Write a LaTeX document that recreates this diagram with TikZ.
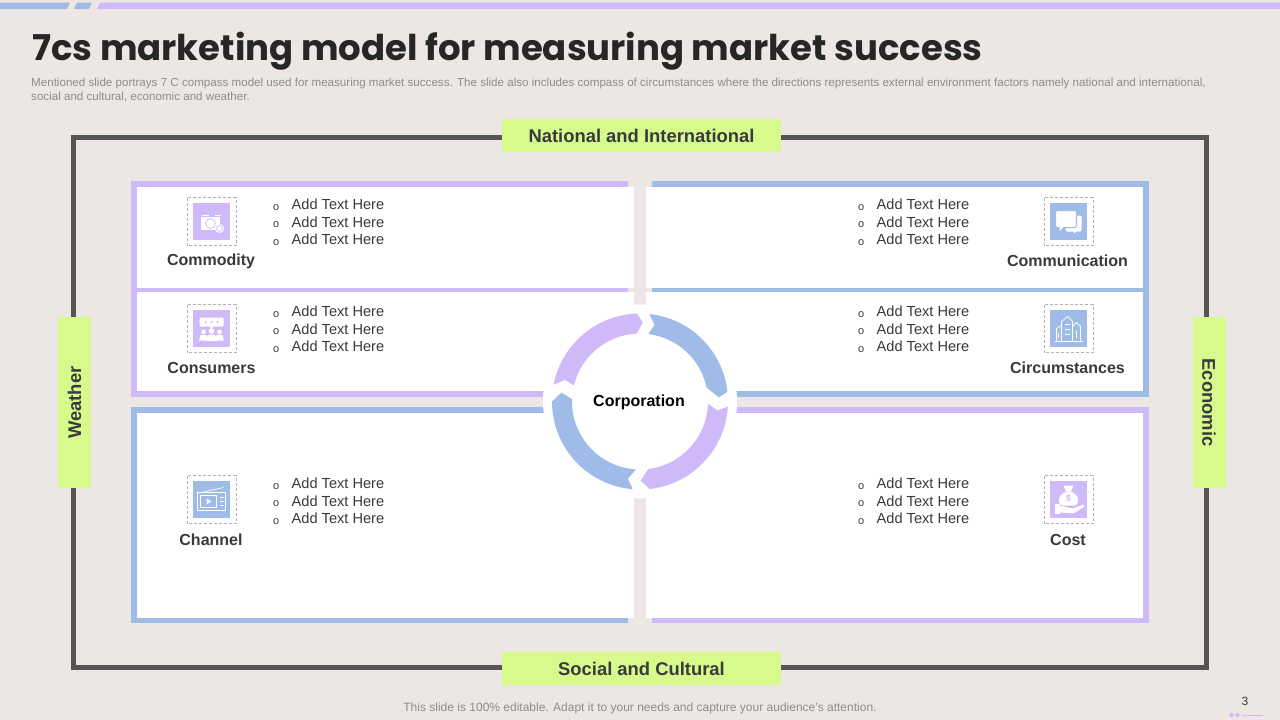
\documentclass[tikz,border=0pt]{standalone}
\usepackage{fontspec}
\usepackage{xcolor}
\setmainfont{Liberation Sans}
\newfontfamily\titlefont{Poppins}
\definecolor{pagegrey}{HTML}{ECE7E4}
\definecolor{framegrey}{HTML}{555555}
\definecolor{compasspurple}{HTML}{D0B9F8}
\definecolor{compassblue}{HTML}{9FBBE8}
\definecolor{sidegreen}{HTML}{D6FB8C}
\definecolor{inkgrey}{HTML}{3A3A3C}
\definecolor{notegrey}{HTML}{8E8C8C}
\newcommand{\addline}{\hbox to 18.5pt{\raisebox{-0.5pt}{\fontsize{11}{11}\selectfont o}\hfil}Add Text Here}
\tikzset{
  sidelabel/.style={fill=sidegreen,text=inkgrey,font=\fontsize{18.4}{20}\selectfont\bfseries,align=center,inner sep=0pt},
  namelabel/.style={text=inkgrey,font=\fontsize{16}{18}\selectfont\bfseries,inner sep=0pt},
  itemlist/.style={text=inkgrey,font=\fontsize{14.6}{17.5}\selectfont,align=left,inner sep=0pt,anchor=north west},
  dashbox/.style={draw=black!30,dashed,line width=0.6pt,dash pattern=on 3pt off 2pt},
  iconline/.style={draw=white,line width=0.9pt},
  iconfill/.style={fill=white,draw=none}
}
\begin{document}
\begin{tikzpicture}[x=1pt,y=-1pt,>=stealth]
  \useasboundingbox (0,0) rectangle (1280,720);
  \fill[pagegrey] (0,0) rectangle (1280,720);
  % top strip
  \fill[compassblue] (0,2.5)--(70,2.5)--(67,9)--(0,9)--cycle;
  \fill[compassblue] (77,2.5)--(92,2.5)--(89,9)--(74,9)--cycle;
  \fill[compasspurple] (100,2.5)--(1280,2.5)--(1280,9)--(97,9)--cycle;
  % outer frame
  \draw[framegrey,line width=4.5pt] (73.5,137.5) rectangle (1206.5,667.5);
  % panels
  \fill[compasspurple] (131,181) rectangle (628,397);
  \fill[compassblue] (652,181) rectangle (1149,397);
  \fill[compassblue] (131,407) rectangle (628,623);
  \fill[compasspurple] (652,407) rectangle (1149,623);
  \fill[white] (137,187) rectangle (634,288);
  \fill[white] (137,292) rectangle (634,391);
  \fill[white] (646,187) rectangle (1143,288);
  \fill[white] (646,292) rectangle (1143,391);
  \fill[white] (137,413) rectangle (634,618);
  \fill[white] (646,413) rectangle (1143,618);
  % centre compass
  \fill[white] (640,401.5) circle (97);
  \begin{scope}[shift={(640,401.5)},y=1pt]
    \foreach \col/\ao/\an/\ai/\hi/\tip/\ho in {
      compasspurple/169/163.9/166.4/92.8/88/92,
      compassblue/83.9/79.2/83/11.8/3/6.4,
      compasspurple/-3.4/-6.6/-2/-83/-89.5/-83.9,
      compassblue/-94.8/-98.9/-93.3/-182/-186.5/-179.9}
      \fill[\col] (\ao:88) arc[start angle=\ao,end angle=\ho,radius=88] -- (\tip:79)
        -- (\hi:68) arc[start angle=\hi,end angle=\ai,radius=68] -- (\an:78) -- cycle;
  \end{scope}
  \node[font=\fontsize{16}{18}\selectfont\bfseries,inner sep=0pt] (corporation) at (639,402) {Corporation};
  % heading
  \node[anchor=base west,inner sep=0pt,text=black!85,font=\titlefont\fontsize{35.5}{38}\selectfont\bfseries] (title) at (32,60) {7cs marketing model for measuring market success};
  \node[anchor=north west,inner sep=0pt,text=notegrey,font=\fontsize{11.6}{14}\selectfont,align=left] (note) at (31,78) {Mentioned slide portrays 7 C compass model used for measuring market success. The slide also includes compass of circumstances where the directions represents external environment factors namely national and international,\\social and cultural, economic and weather.};
  % side labels
  \node[sidelabel,minimum width=279pt,minimum height=33pt] (national) at (641.5,135.5) {National and International};
  \node[sidelabel,minimum width=279pt,minimum height=33pt] (social) at (641.5,668.5) {Social and Cultural};
  \node[sidelabel,minimum width=171pt,minimum height=33pt,rotate=90] (weather) at (74.5,402.5) {Weather};
  \node[sidelabel,minimum width=171pt,minimum height=33pt,rotate=-90] (economic) at (1209,402.5) {Economic};
  % icon boxes
  \foreach \bx/\by/\col in {211.5/221.5/compasspurple,211.5/328.5/compasspurple,211.5/499.5/compassblue,
      1068.5/221.5/compassblue,1068.5/328.5/compassblue,1068.5/499.5/compasspurple} {
    \draw[dashbox] (\bx-24.5,\by-24) rectangle (\bx+24.5,\by+24);
    \fill[\col] (\bx-18.5,\by-18.5) rectangle (\bx+18.5,\by+18.5);
  }
  % commodity icon
  \begin{scope}[shift={(211.5,221.5)}]
    \fill[white] (-10,-7) rectangle (-3,-5.5);
    \fill[white] (3,-7) rectangle (9,-5.5);
    \draw[iconline] (-10,-4) rectangle (8,8);
    \fill[white] (-10,-4) rectangle (8,8);
    \draw[compasspurple,line width=0.7pt] (-1,2) circle (5);
    \draw[iconfill] (8,7) circle (4.5);
    \draw[compasspurple,line width=0.6pt] (8,7) circle (3);
  \end{scope}
  % consumers icon
  \begin{scope}[shift={(211.5,328.5)}]
    \fill[white,rounded corners=1pt] (-12,-11) rectangle (12,-2);
    \fill[white] (-2,-2)--(2,-2)--(0,1)--cycle;
    \foreach \dx in {-6,0,6} \fill[compasspurple] (\dx,-6.5) circle (1.1);
    \foreach \dx in {-8,8} {
      \fill[white] (\dx,3.5) circle (2.4);
      \fill[white] (\dx-4.5,12)--(\dx-3,6.5)--(\dx+3,6.5)--(\dx+4.5,12)--cycle;
    }
    \fill[white] (0,2.5) circle (2.8);
    \fill[white] (-5.5,12.5)--(-3.5,6)--(3.5,6)--(5.5,12.5)--cycle;
  \end{scope}
  % channel icon
  \begin{scope}[shift={(211.5,499.5)}]
    \draw[iconline,line width=0.7pt] (-14,-7) rectangle (14,11);
    \draw[iconline,line width=0.7pt] (-10,-7)--(12,-12);
    \draw[iconline,line width=0.7pt] (-11,-4) rectangle (5,8);
    \fill[white] (-5,-1)--(-5,5)--(0,2)--cycle;
    \foreach \dy in {-2,2,6} \draw[iconline,line width=0.7pt] (8,\dy)--(12,\dy);
  \end{scope}
  % communication icon
  \begin{scope}[shift={(1068.5,221.5)}]
    \fill[white,rounded corners=1.5pt] (-3,-6) rectangle (13,10);
    \fill[white] (6,10) circle (1.6);
    \draw[compassblue,fill=white,line width=1pt,rounded corners=2pt] (-13,-11) rectangle (8,6);
    \fill[white] (-9,5)--(-9,10)--(-5,5)--cycle;
  \end{scope}
  % circumstances icon
  \begin{scope}[shift={(1068.5,328.5)}]
    \draw[iconline,line width=0.7pt] (-12,13)--(-12,0)--(-7,-3)--(-7,13);
    \draw[iconline,line width=0.7pt] (-7,13)--(-7,-7)--(-1,-12)--(4,-7)--(4,13);
    \draw[iconline,line width=0.7pt] (4,13)--(4,-2)--(8,-6)--(12,-2)--(12,13);
    \draw[iconline,line width=0.7pt] (-14,13)--(14,13);
    \foreach \dy in {-4,1,6} \draw[iconline,line width=0.7pt] (-4,\dy)--(1,\dy);
    \draw[iconline,line width=0.7pt] (-10,4)--(-10,9);
    \draw[iconline,line width=0.7pt] (8,2)--(8,9);
  \end{scope}
  % cost icon
  \begin{scope}[shift={(1068.5,499.5)}]
    \fill[white] (-5,-14)--(5,-14)--(2.5,-8)--(-2.5,-8)--cycle;
    \fill[white] (-2.5,-8) .. controls (-12,-4) and (-11,6) .. (-6,6) -- (6,6) .. controls (11,6) and (12,-4) .. (2.5,-8) -- cycle;
    \node[text=compasspurple,inner sep=0pt,font=\fontsize{9}{9}\selectfont\bfseries] (costmark) at (0,-1) {\$};
    \fill[white] (-14,4) rectangle (-9,14);
    \fill[white] (-9,6)--(-4,7)--(4,9)--(15,5)--(16,7)--(5,14)--(-9,13)--cycle;
  \end{scope}
  % names
  \node[namelabel] (commodity) at (211,261) {Commodity};
  \node[namelabel] (consumers) at (211.5,368) {Consumers};
  \node[namelabel] (channel) at (211,540) {Channel};
  \node[namelabel] (communication) at (1067.5,261) {Communication};
  \node[namelabel] (circumstances) at (1067.5,368) {Circumstances};
  \node[namelabel] (cost) at (1068,540) {Cost};
  % lists
  \foreach \lx/\ly/\lname in {273/199/lista,273/306/listb,273/478/listc,858/199/listd,858/306/liste,858/478/listf}
    \node[itemlist] (\lname) at (\lx,\ly) {\addline\\\addline\\\addline};
  % footer
  \node[text=notegrey,inner sep=0pt,font=\fontsize{12}{14}\selectfont] (footer) at (640,708.5) {This slide is 100\% editable. Adapt it to your needs and capture your audience's attention.};
  \node[text=inkgrey,inner sep=0pt,font=\fontsize{12}{14}\selectfont] (pagenum) at (1245,701) {3};
  \fill[compasspurple] (1231.5,715) circle (2.2);
  \fill[compasspurple] (1237.5,715) circle (2.2);
  \draw[compasspurple,line width=0.6pt] (1242,715)--(1263,715);
\end{tikzpicture}
\end{document}
